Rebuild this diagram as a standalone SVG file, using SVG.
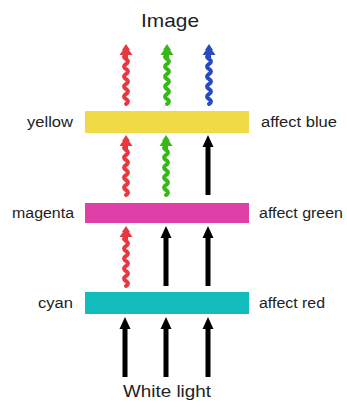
<svg xmlns="http://www.w3.org/2000/svg" xmlns:xlink="http://www.w3.org/1999/xlink" width="347" height="407" viewBox="0 0 347 407">
  <style>
    .lbl { font-family: "Liberation Sans", Arial, sans-serif; font-size: 14px; fill: #222; }
    .ttl { font-family: "Liberation Sans", Arial, sans-serif; font-size: 19px; fill: #222; }
    .red { fill: #e8383f; stroke: #e8383f; }
    .grn { fill: #36b818; stroke: #36b818; }
    .blu { fill: #2a4bbf; stroke: #2a4bbf; }
    .blk { fill: #000; stroke: #000; }
  </style>
  <defs>
    <!-- wavy photon arrow, origin at the tail, pointing up, 60px long -->
    <g id="wave">
      <path d="M0,0 q4,-2.5 0,-5 t0,-5 t0,-5 t0,-5 t0,-5 t0,-5 t0,-5 t0,-5 t0,-5 t0,-3" fill="none" stroke-width="4" stroke-linecap="round"/>
      <polygon points="0,-60 -4,-54 -3,-54 -6.5,-49 -2,-49 -2,-46 2,-46 2,-49 6.5,-49 3,-54 4,-54" stroke="none"/>
    </g>
    <!-- straight white-light arrow -->
    <g id="beam">
      <rect x="-2.5" y="-50" width="5" height="50" stroke="none"/>
      <polygon points="0,-60 -5.5,-48 5.5,-48" stroke="none"/>
    </g>
  </defs>

  <text class="ttl" x="170" y="27" text-anchor="middle" textLength="58" lengthAdjust="spacingAndGlyphs">Image</text>

  <g id="filter-yellow">
    <rect x="85" y="111" width="164" height="22" fill="#f0da46"/>
    <text class="lbl" x="27" y="127" textLength="46" lengthAdjust="spacingAndGlyphs">yellow</text>
    <text class="lbl" x="261" y="127" textLength="76" lengthAdjust="spacingAndGlyphs">affect blue</text>
  </g>

  <g id="filter-magenta">
    <rect x="85" y="203" width="164" height="20" fill="#de40a8"/>
    <text class="lbl" x="12" y="218" textLength="62" lengthAdjust="spacingAndGlyphs">magenta</text>
    <text class="lbl" x="259" y="218" textLength="84" lengthAdjust="spacingAndGlyphs">affect green</text>
  </g>

  <g id="filter-cyan">
    <rect x="85" y="292" width="164" height="22" fill="#13bcbc"/>
    <text class="lbl" x="38" y="308" textLength="35" lengthAdjust="spacingAndGlyphs">cyan</text>
    <text class="lbl" x="259" y="308" textLength="66" lengthAdjust="spacingAndGlyphs">affect red</text>
  </g>

  <text class="ttl" x="167" y="397" text-anchor="middle" textLength="88" lengthAdjust="spacingAndGlyphs" style="font-size:16px">White light</text>

  <g id="connectors">
    <!-- above yellow: red, green, blue -->
    <use xlink:href="#wave" class="red" transform="translate(126,104)"/>
    <use xlink:href="#wave" class="grn" transform="translate(167,104)"/>
    <use xlink:href="#wave" class="blu" transform="translate(209,104)"/>
    <!-- between magenta and yellow -->
    <use xlink:href="#wave" class="red" transform="translate(126,195)"/>
    <use xlink:href="#wave" class="grn" transform="translate(166,195)"/>
    <use xlink:href="#beam" class="blk" transform="translate(208,195)"/>
    <!-- between cyan and magenta -->
    <use xlink:href="#wave" class="red" transform="translate(126,286)"/>
    <use xlink:href="#beam" class="blk" transform="translate(166,286)"/>
    <use xlink:href="#beam" class="blk" transform="translate(208,286)"/>
    <!-- white light below cyan -->
    <use xlink:href="#beam" class="blk" transform="translate(125,377)"/>
    <use xlink:href="#beam" class="blk" transform="translate(166,377)"/>
    <use xlink:href="#beam" class="blk" transform="translate(208,377)"/>
  </g>
</svg>
